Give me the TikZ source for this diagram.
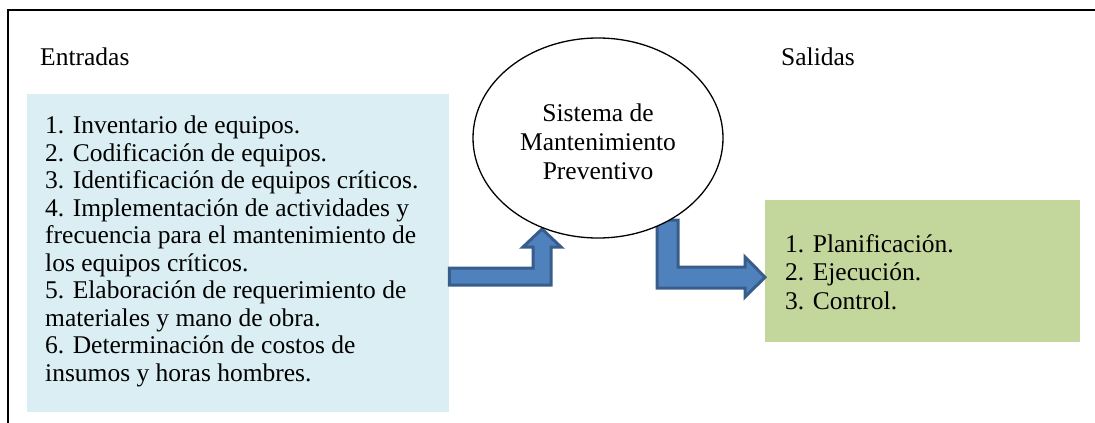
\documentclass[tikz,border=0pt]{standalone}
\usepackage{fontspec}
\setmainfont{Liberation Serif}
\usetikzlibrary{shapes.geometric,calc}
\definecolor{inblue}{HTML}{DAEEF3}
\definecolor{outgreen}{HTML}{C3D69B}
\definecolor{arrfill}{HTML}{4F81BD}
\definecolor{arrline}{HTML}{385D8A}
\tikzset{
  txt/.style={inner sep=0pt, align=left, font=\fontsize{25.5}{27.5}\selectfont},
  boxa/.style={draw=none, inner sep=0pt, anchor=north west},
  blockarrow/.style={fill=arrfill, draw=arrline, line width=3pt, line join=miter},
  sysell/.style={ellipse, draw=black, line width=1.3pt, fill=white, inner sep=0pt, minimum width=250pt, minimum height=200pt}
}
\begin{document}
\begin{tikzpicture}[x=1pt,y=-1pt]
\useasboundingbox (0,0) rectangle (1095,423);
% frame
\draw[line width=2.8pt] (8,423) -- (8,10) -- (1095,10);
% labels
\node[txt, anchor=base west] (lin) at (40,65) {Entradas};
\node[txt, anchor=base west] (lout) at (781,65) {Salidas};
% boxes
\node[boxa, fill=inblue, minimum width=422pt, minimum height=318pt] (in) at (27,94) {};
\node[boxa, fill=outgreen, minimum width=315pt, minimum height=142pt] (out) at (765,200) {};
\node[txt, anchor=base west] (intxt) at (45,381) {1. Inventario de equipos.\\
2. Codificación de equipos.\\
3. Identificación de equipos críticos.\\
4. Implementación de actividades y\\
frecuencia para el mantenimiento de\\
los equipos críticos.\\
5. Elaboración de requerimiento de\\
materiales y mano de obra.\\
6. Determinación de costos de\\
insumos y horas hombres.};
\node[txt, font=\fontsize{25.5}{28.5}\selectfont, anchor=base west] (outtxt) at (785,309) {1. Planificación.\\
2. Ejecución.\\
3. Control.};
% block arrows
\draw[blockarrow] ($(in.north east)+(0,174)$) -- (533,268) -- (533,247) -- (523,247) -- (542,229) -- (561,247) -- (551,247) -- (551,285) -- ($(in.north east)+(0,191)$) -- cycle;
\draw[blockarrow] (657,220) -- (678,220) -- (678,267) -- (745,267) -- (745,257) -- ($(out.west)+(0,6)$) -- (745,297) -- (745,288) -- (657,288) -- cycle;
% system ellipse
\node[sysell] (sys) at (598,138) {};
\node[txt, align=center, font=\fontsize{25.5}{28.7}\selectfont, anchor=base] (systxt) at (598,179) {Sistema de\\ Mantenimiento\\ Preventivo};
\end{tikzpicture}
\end{document}
